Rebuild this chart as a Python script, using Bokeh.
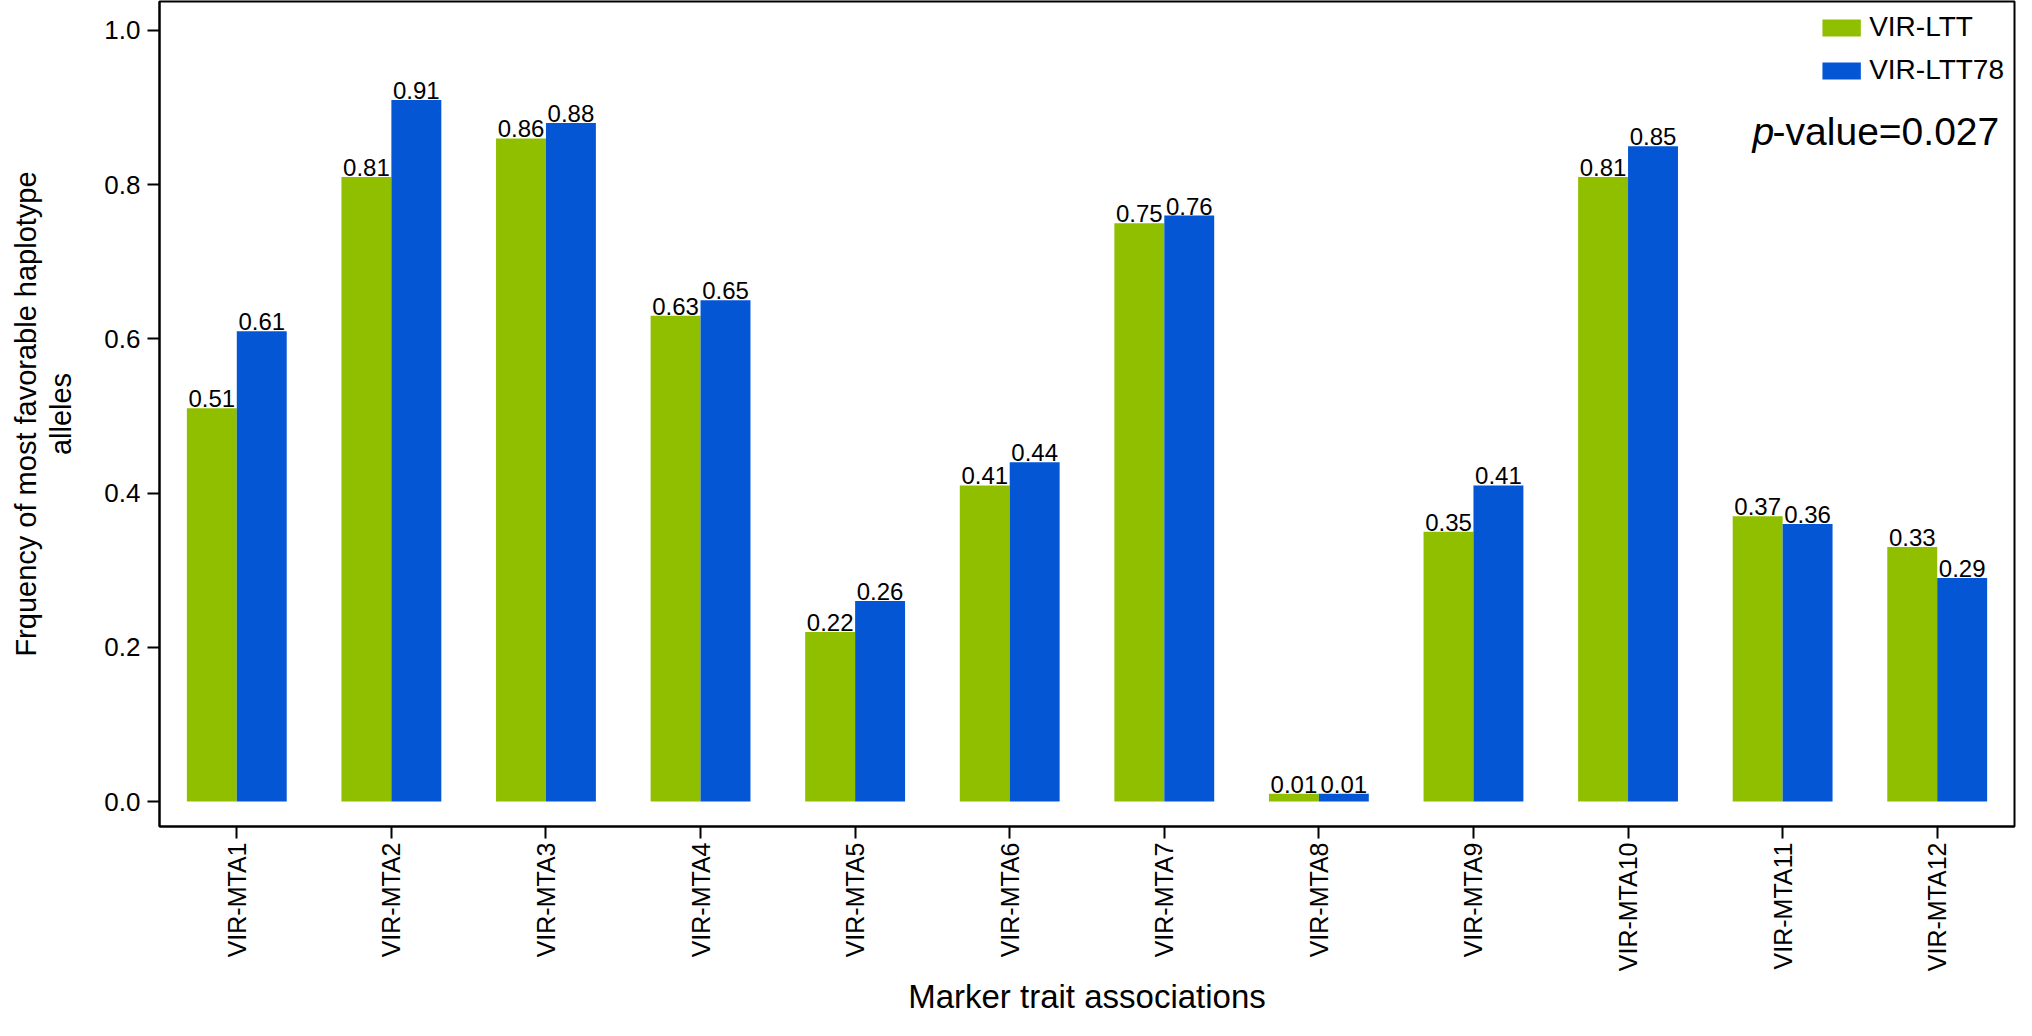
from bokeh.plotting import figure
from bokeh.models import (FactorRange, Range1d, ColumnDataSource, FixedTicker,
                          PrintfTickFormatter)
from bokeh.transform import dodge
from bokeh.core.properties import value
from bokeh.embed import file_html
from bokeh.resources import INLINE
import math

categories = ["VIR-MTA1", "VIR-MTA2", "VIR-MTA3", "VIR-MTA4", "VIR-MTA5", "VIR-MTA6",
              "VIR-MTA7", "VIR-MTA8", "VIR-MTA9", "VIR-MTA10", "VIR-MTA11", "VIR-MTA12"]
ltt = [0.51, 0.81, 0.86, 0.63, 0.22, 0.41, 0.75, 0.01, 0.35, 0.81, 0.37, 0.33]
ltt78 = [0.61, 0.91, 0.88, 0.65, 0.26, 0.44, 0.76, 0.01, 0.41, 0.85, 0.36, 0.29]
series_names = ["VIR-LTT", "VIR-LTT78"]
y_ticks = [0.0, 0.2, 0.4, 0.6, 0.8, 1.0]
p_value_text = "0.027"
x_title = "Marker trait associations"
y_title = "Frquency of most favorable haplotype\nalleles"

GREEN = "#90BF00"
BLUE = "#0556D5"
FONT = "Liberation Sans"

src = ColumnDataSource(dict(
    cat=categories,
    ltt=ltt,
    ltt78=ltt78,
    ltt_lbl=["%.2f" % v for v in ltt],
    ltt78_lbl=["%.2f" % v for v in ltt78],
))

p = figure(width=2016, height=1020, x_range=FactorRange(*categories, range_padding=0),
           y_range=Range1d(-0.0324, 1.0376), output_backend="svg", toolbar_location=None,
           min_border_left=159, min_border_right=2, min_border_top=1, min_border_bottom=194)

bw = 0.323
p.vbar(x=dodge("cat", -bw / 2, range=p.x_range), top="ltt", width=bw, source=src,
       fill_color=GREEN, line_color=None, legend_label=series_names[0])
p.vbar(x=dodge("cat", bw / 2, range=p.x_range), top="ltt78", width=bw, source=src,
       fill_color=BLUE, line_color=None, legend_label=series_names[1])

p.text(x=dodge("cat", -bw / 2, range=p.x_range), y="ltt", text="ltt_lbl", source=src,
       text_align="center", text_baseline="bottom", y_offset=-1,
       text_font=value(FONT), text_font_size="24px", text_color="black")
p.text(x=dodge("cat", bw / 2, range=p.x_range), y="ltt78", text="ltt78_lbl", source=src,
       text_align="center", text_baseline="bottom", y_offset=-1,
       text_font=value(FONT), text_font_size="24px", text_color="black")

# p-value annotation
pv = ColumnDataSource(dict(x=[categories[-1]], y=[0.869], t1=["p"], t2=["-value=" + p_value_text]))
p.text(x="x", y="y", text="t2", source=pv, x_offset=62, text_align="right",
       text_baseline="alphabetic", text_font=value(FONT), text_font_size="39px",
       text_color="black")
p.text(x="x", y="y", text="t1", source=pv, x_offset=-163, text_align="right",
       text_baseline="alphabetic", text_font=value(FONT), text_font_size="39px",
       text_font_style="italic", text_color="black")

# grids / outline
p.xgrid.grid_line_color = None
p.ygrid.grid_line_color = None
p.outline_line_color = "black"
p.outline_line_width = 2
p.outline_line_alpha = 1
p.background_fill_color = "white"
p.border_fill_color = "white"

# axes
for ax in (p.xaxis[0], p.yaxis[0]):
    ax.axis_line_width = 2
    ax.axis_line_color = "black"
    ax.major_tick_line_width = 2
    ax.major_tick_line_color = "black"
    ax.major_tick_out = 12
    ax.major_tick_in = 0
    ax.minor_tick_line_color = None
    ax.major_label_text_font = FONT
    ax.major_label_text_color = "black"
    ax.axis_label_text_font = FONT
    ax.axis_label_text_font_style = "normal"
    ax.axis_label_text_color = "black"

p.yaxis[0].ticker = FixedTicker(ticks=y_ticks)
p.yaxis[0].formatter = PrintfTickFormatter(format="%.1f")
p.yaxis[0].major_label_text_font_size = "26px"
p.yaxis[0].major_label_standoff = 7
p.yaxis[0].axis_label = y_title
p.yaxis[0].axis_label_text_font_size = "29px"
p.yaxis[0].axis_label_standoff = 24
p.yaxis[0].axis_label_text_line_height = 1.1

p.xaxis[0].major_label_orientation = math.pi / 2
p.xaxis[0].major_label_text_font_size = "25px"
p.xaxis[0].major_label_standoff = 4
p.xaxis[0].axis_label = x_title
p.xaxis[0].axis_label_text_font_size = "33px"
p.xaxis[0].axis_label_standoff = 4

# legend
lg = p.legend[0]
lg.location = "top_right"
lg.border_line_color = None
lg.background_fill_alpha = 0
lg.label_text_font = FONT
lg.label_text_font_size = "28px"
lg.label_text_color = "black"
lg.glyph_width = 48
lg.glyph_height = 21
lg.label_height = 21
lg.label_standoff = 4
lg.spacing = 11
lg.padding = 8
lg.margin = 10

open("out.html", "w").write(file_html(p, INLINE))
